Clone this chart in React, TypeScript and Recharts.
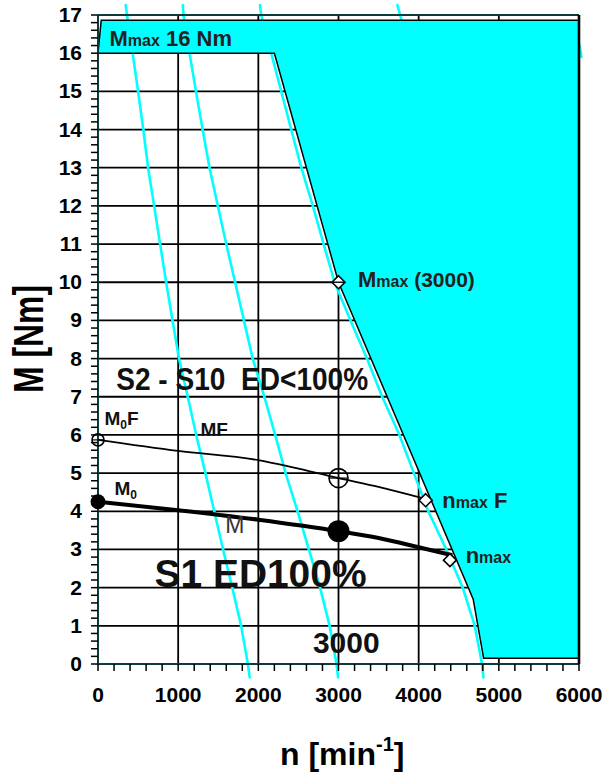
import React from "react";
import {
  ComposedChart,
  XAxis,
  YAxis,
  Area,
  Line,
  ReferenceLine,
  ReferenceDot,
} from "recharts";

const FONT = '"Liberation Sans", Arial, Helvetica, sans-serif';
const CYAN = "#00ffff";
const FRAME = "#0c3b3b";
const INK = "#222";

// axes
const majorRpm = [0, 1000, 2000, 3000, 4000, 5000, 6000];
const majorTorque = [0, 1, 2, 3, 4, 5, 6, 7, 8, 9, 10, 11, 12, 13, 14, 15, 16, 17];
const minorRpm = majorRpm
  .slice(0, -1)
  .flatMap((v) => [v, v + 200, v + 400, v + 600, v + 800])
  .concat(6000);
const minorTorque = majorTorque
  .slice(0, -1)
  .flatMap((v) => [0, 0.2, 0.4, 0.6, 0.8].map((d) => +(v + d).toFixed(1)))
  .concat(17);

// cyan operating range: lower edge is the max torque line
const envRpm = [0, 40, 2200, 3000, 4680, 4810, 6000];
const envLow = [16, 16, 16, 10, 1.7, 0.15, 0.15];
const envHigh = [16, 16.86, 16.86, 16.86, 16.86, 16.86, 16.86];

// S1 torque M and S2 torque MF
const mRpm = [0, 1000, 2000, 3000, 3500, 4000, 4420];
const mTorque = [4.25, 4.03, 3.78, 3.48, 3.3, 3.06, 2.85];
const mfRpm = [0, 1000, 2000, 2430, 3000, 3500, 4040];
const mfTorque = [5.87, 5.58, 5.34, 5.15, 4.87, 4.64, 4.35];

// cyan voltage limit curves
const curveTorque = [17.26, 17, 16, 15, 14, 13, 12, 11, 10, 9, 8, 7, 6, 5, 4, 3, 2, 1, 0, -0.35];
const curveRpmA = [345, 362, 432, 500, 565, 625, 700, 775, 850, 930, 1010, 1120, 1225, 1340, 1450, 1560, 1675, 1785, 1870, 1892];
const curveRpmB = [1058, 1067, 1142, 1222, 1305, 1391, 1495, 1600, 1710, 1820, 1930, 2075, 2210, 2340, 2490, 2630, 2770, 2890, 2975, 2995];
const curveRpmC = [2020, 2036, 2161, 2286, 2410, 2536, 2680, 2815, 2951, 3150, 3355, 3545, 3760, 3940, 4120, 4345, 4550, 4700, 4790, 4808];
const stubTorqueD = [17.26, 16.8];
const curveRpmD = [3735, 3795];
const stubTorqueE = [16.2, 15.9];
const curveRpmE = [6008, 6030];

// markers
const openCircles = [
  { rpm: 0, torque: 5.87, r: 6 },
  { rpm: 3000, torque: 4.87, r: 9.5 },
];
const filledCircles = [
  { rpm: 0, torque: 4.25, r: 7.5 },
  { rpm: 3000, torque: 3.48, r: 11 },
];
const diamonds = [
  { rpm: 3000, torque: 10 },
  { rpm: 4087, torque: 4.29 },
  { rpm: 4390, torque: 2.72 },
];

const envelope = envRpm.map((rpm, i) => ({ rpm, band: [envLow[i], envHigh[i]] }));
const mRows = mRpm.map((rpm, i) => ({ rpm, torque: mTorque[i] }));
const mfRows = mfRpm.map((rpm, i) => ({ rpm, torque: mfTorque[i] }));

const segments = (rpm: number[], torque: number[]) =>
  rpm.slice(1).map((x, i) => [
    { x: rpm[i], y: torque[i] },
    { x, y: torque[i + 1] },
  ]);

const cyanSegments = [
  ...segments(curveRpmA, curveTorque),
  ...segments(curveRpmB, curveTorque),
  ...segments(curveRpmC, curveTorque),
  ...segments(curveRpmD, stubTorqueD),
  ...segments(curveRpmE, stubTorqueE),
];

const XTick = ({ x, y, payload }: any) =>
  majorRpm.includes(payload.value) ? (
    <text x={x} y={y + 27} textAnchor="middle" fontFamily={FONT} fontWeight={700} fontSize={21} fill="#000">
      {payload.value}
    </text>
  ) : (
    <g />
  );

const YTick = ({ x, y, payload }: any) =>
  majorTorque.includes(payload.value) ? (
    <text x={x} y={y + 7} textAnchor="end" fontFamily={FONT} fontWeight={700} fontSize={21} fill="#000">
      {payload.value}
    </text>
  ) : (
    <g />
  );

const textShape = (content: React.ReactNode, extra: any = {}) => (p: any) =>
  (
    <text x={p.cx} y={p.cy} fontFamily={FONT} fontWeight={700} fill={INK} style={{ whiteSpace: "pre" }} {...extra}>
      {content}
    </text>
  );

const notes = [
  {
    rpm: 143, torque: 16.19,
    body: (
      <>
        <tspan fontSize={22}>M</tspan>
        <tspan fontSize={16}>max</tspan>
        <tspan fontSize={22}>{" 16 Nm"}</tspan>
      </>
    ),
  },
  {
    rpm: 3243, torque: 9.87,
    body: (
      <>
        <tspan fontSize={22}>M</tspan>
        <tspan fontSize={16}>max</tspan>
        <tspan fontSize={21}>{" (3000)"}</tspan>
      </>
    ),
  },
  {
    rpm: 227, torque: 7.18,
    body: <tspan fontSize={31}>{"S2 - S10  ED<100%"}</tspan>,
    extra: { textLength: 252, lengthAdjust: "spacingAndGlyphs", fill: "#111" },
  },
  {
    rpm: 81, torque: 6.26,
    body: (
      <>
        <tspan fontSize={19}>M</tspan>
        <tspan fontSize={12} dy={4}>0</tspan>
        <tspan fontSize={19} dy={-4}>F</tspan>
      </>
    ),
    extra: { fill: "#111" },
  },
  { rpm: 1279, torque: 5.97, body: <tspan fontSize={19}>MF</tspan>, extra: { fill: "#111" } },
  {
    rpm: 206, torque: 4.43,
    body: (
      <>
        <tspan fontSize={19}>M</tspan>
        <tspan fontSize={12} dy={4}>0</tspan>
      </>
    ),
    extra: { fill: "#111" },
  },
  { rpm: 1587, torque: 3.42, body: <tspan fontSize={23}>M</tspan>, extra: { fontWeight: 400, fill: "#333" } },
  { rpm: 705, torque: 2.02, body: <tspan fontSize={39}>S1 ED100%</tspan>, extra: { fill: "#111", textLength: 212, lengthAdjust: "spacingAndGlyphs" } },
  {
    rpm: 4295, torque: 4.08,
    body: (
      <>
        <tspan fontSize={22}>n</tspan>
        <tspan fontSize={16}>max</tspan>
        <tspan fontSize={22}>{" F"}</tspan>
      </>
    ),
  },
  {
    rpm: 4586, torque: 2.65,
    body: (
      <>
        <tspan fontSize={22}>n</tspan>
        <tspan fontSize={16}>max</tspan>
      </>
    ),
  },
  { rpm: 2681, torque: 0.28, body: <tspan fontSize={30}>3000</tspan>, extra: { fill: "#111" } },
];

export default function App() {
  return (
    <div style={{ position: "absolute", left: 0, top: 0, width: 607, height: 772, background: "#fff" }}>
      <ComposedChart width={607} height={772} margin={{ top: 15, right: 28, bottom: 48, left: 0 }}>
        <XAxis
          type="number"
          dataKey="rpm"
          domain={[0, 6000]}
          ticks={minorRpm}
          interval={0}
          tick={XTick}
          tickSize={7}
          tickMargin={4}
          height={60}
          axisLine={{ stroke: FRAME, strokeWidth: 2 }}
          tickLine={{ stroke: "#000", strokeWidth: 1.5 }}
        />
        <YAxis
          type="number"
          domain={[0, 17]}
          ticks={minorTorque}
          interval={0}
          tick={YTick}
          tickSize={7}
          tickMargin={9}
          width={98}
          axisLine={{ stroke: FRAME, strokeWidth: 2 }}
          tickLine={{ stroke: "#000", strokeWidth: 1.5 }}
        />

        {majorTorque.slice(1, -1).map((v) => (
          <ReferenceLine key={"h" + v} y={v} stroke="#000" strokeWidth={1.8} zIndex={-100} />
        ))}
        {majorRpm.slice(1, -1).map((v) => (
          <ReferenceLine key={"v" + v} x={v} stroke="#000" strokeWidth={1.8} zIndex={-100} />
        ))}

        {cyanSegments.map((seg, i) => (
          <ReferenceLine
            key={"c" + i}
            segment={seg}
            ifOverflow="visible"
            stroke={CYAN}
            strokeWidth={2.6}
            strokeLinecap="round"
            zIndex={-50}
          />
        ))}

        <Area
          data={envelope}
          dataKey="band"
          type="linear"
          fill={CYAN}
          fillOpacity={1}
          stroke="#000"
          strokeWidth={1.5}
          isAnimationActive={false}
          zIndex={100}
        />

        <ReferenceLine y={17} stroke={FRAME} strokeWidth={2} zIndex={500} />
        <ReferenceLine x={6000} stroke="#000" strokeWidth={2.6} zIndex={500} />

        <Line
          data={mfRows}
          dataKey="torque"
          type="monotone"
          stroke="#000"
          strokeWidth={1.8}
          dot={false}
          isAnimationActive={false}
          zIndex={400}
        />
        <Line
          data={mRows}
          dataKey="torque"
          type="monotone"
          stroke="#000"
          strokeWidth={4}
          dot={false}
          isAnimationActive={false}
          zIndex={400}
        />

        {openCircles.map((c, i) => (
          <ReferenceDot
            key={"oc" + i}
            x={c.rpm}
            y={c.torque}
            ifOverflow="visible"
            zIndex={600}
            shape={(p: any) => (
              <g>
                <circle cx={p.cx} cy={p.cy} r={c.r} fill="none" stroke="#000" strokeWidth={1.6} />
                <line x1={p.cx - c.r} x2={p.cx + c.r} y1={p.cy} y2={p.cy} stroke="#000" strokeWidth={1.2} />
              </g>
            )}
          />
        ))}
        {filledCircles.map((c, i) => (
          <ReferenceDot
            key={"fc" + i}
            x={c.rpm}
            y={c.torque}
            ifOverflow="visible"
            zIndex={600}
            shape={(p: any) => <circle cx={p.cx} cy={p.cy} r={c.r} fill="#000" />}
          />
        ))}
        {diamonds.map((d, i) => (
          <ReferenceDot
            key={"d" + i}
            x={d.rpm}
            y={d.torque}
            ifOverflow="visible"
            zIndex={600}
            shape={(p: any) => (
              <g>
                <polygon
                  points={`${p.cx},${p.cy - 6.5} ${p.cx + 6.5},${p.cy} ${p.cx},${p.cy + 6.5} ${p.cx - 6.5},${p.cy}`}
                  fill="#fff"
                  stroke="#000"
                  strokeWidth={1.6}
                />
                {i === 0 && (
                  <line x1={p.cx - 6.5} x2={p.cx + 6.5} y1={p.cy} y2={p.cy} stroke="#000" strokeWidth={1.4} />
                )}
              </g>
            )}
          />
        ))}

        {notes.map((n, i) => (
          <ReferenceDot
            key={"n" + i}
            x={n.rpm}
            y={n.torque}
            ifOverflow="visible"
            zIndex={2000}
            shape={textShape(n.body, n.extra)}
          />
        ))}
      </ComposedChart>

      <svg
        width={607}
        height={772}
        style={{ position: "absolute", left: 0, top: 0, pointerEvents: "none" }}
      >
        <text
          transform="translate(43,339) rotate(-90)"
          textAnchor="middle"
          fontFamily={FONT}
          fontWeight={700}
          fontSize={42}
          textLength={108}
          lengthAdjust="spacingAndGlyphs"
          fill="#000"
        >
          M [Nm]
        </text>
        <text x={280} y={765} fontFamily={FONT} fontWeight={700} fontSize={32} fill="#000">
          n [min
          <tspan fontSize={20} dy={-14}>
            -1
          </tspan>
          <tspan fontSize={32} dy={14}>
            ]
          </tspan>
        </text>
      </svg>
    </div>
  );
}
